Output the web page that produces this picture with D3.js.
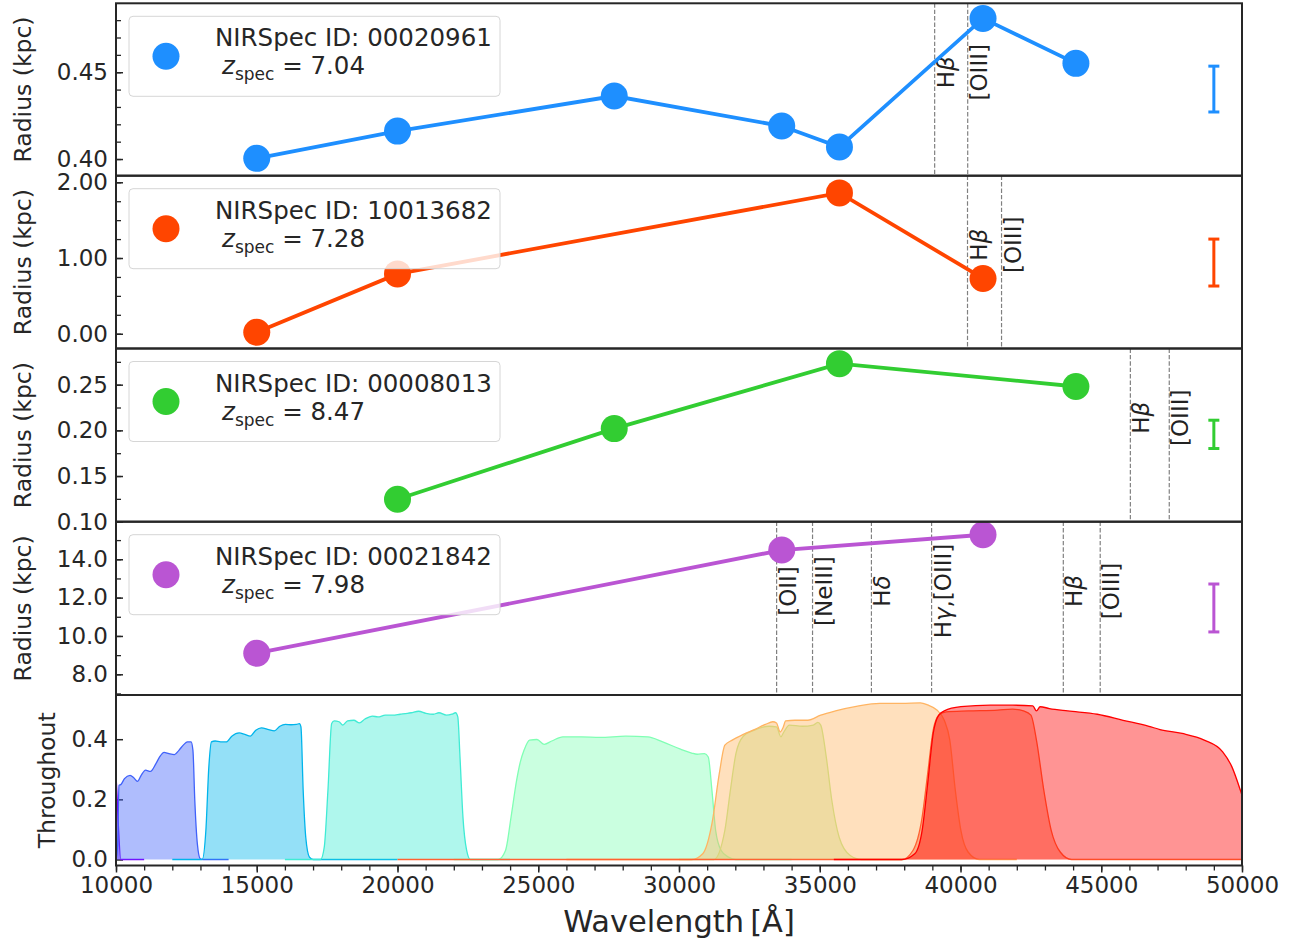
<!DOCTYPE html>
<html><head><meta charset="utf-8">
<script src="https://cdn.jsdelivr.net/npm/d3@7"></script>
<style>
body{margin:0;background:#fff}
text{font-family:"DejaVu Sans",sans-serif;fill:#262626}
</style>
</head><body>
<svg id="chart" width="1300" height="946"></svg>
<script>
// ---------------- data ----------------
const ids = ["00020961", "10013682", "00008013", "00021842"];
const zspec = ["7.04", "7.28", "8.47", "7.98"];

const wave1 = [15000, 20000, 27700, 33650, 35700, 40800, 44100];
const rad1  = [0.4004, 0.4161, 0.4363, 0.4190, 0.4069, 0.4810, 0.4551];
const wave2 = [15000, 20000, 35700, 40800];
const rad2  = [0.02, 0.79, 1.86, 0.73];
const wave3 = [20000, 27700, 35700, 44100];
const rad3  = [0.1246, 0.2019, 0.2730, 0.2480];
const wave4 = [15000, 33650, 40800];
const rad4  = [9.10, 14.48, 15.28];

const errWave = 49000;
const errCenter = [0.4403, 0.94, 0.1956, 11.46];
const errSize   = [0.0132, 0.31, 0.0155, 1.25];

const lineWave1 = [39082, 40256];
const lineName1 = ["Hβ", "[OIII]"];
const lineWave2 = [40249, 41458];
const lineName2 = ["Hβ", "[OIII]"];
const lineWave3 = [46034, 47416];
const lineName3 = ["Hβ", "[OIII]"];
const lineWave4 = [33468, 34744, 36836, 38973, 43652, 44963];
const lineName4 = ["[OII]", "[NeIII]", "Hδ", "Hγ,[OIII]", "Hβ", "[OIII]"];

const yTicks1 = [0.40, 0.45];
const yTicks2 = [0.00, 1.00, 2.00];
const yTicks3 = [0.10, 0.15, 0.20, 0.25];
const yTicks4 = [8.0, 10.0, 12.0, 14.0];
const yTicks5 = [0.0, 0.2, 0.4];
const xTicks = [10000, 15000, 20000, 25000, 30000, 35000, 40000, 45000, 50000];

const filterNames = ["F090W", "F115W", "F150W", "F200W", "F277W", "F335M", "F356W", "F410M", "F444W"];
const F090W = [[7000,0],[8000,0.02],[8200,0.3],[9500,0.31],[10000,0.27],[10080,0.12],[10170,0],[11000,0]];
const F115W = [[9500,0],[10000,0],[10060,0.05],[10105,0.247],[10171,0.249],[10302,0.269],[10500,0.28],[10631,0.272],[10762,0.26],[10894,0.28],[11051,0.297],[11222,0.293],[11420,0.319],[11550,0.341],[11708,0.356],[11879,0.352],[12076,0.349],[12234,0.363],[12405,0.382],[12536,0.391],[12667,0.391],[12733,0.363],[12799,0.197],[12890,0.052],[12996,0.002],[13100,0],[14000,0]];
const F150W = [[12000,0],[13062,0],[13193,0.097],[13298,0.308],[13390,0.391],[13522,0.394],[13719,0.391],[13916,0.391],[14113,0.41],[14376,0.421],[14573,0.416],[14770,0.41],[14967,0.43],[15164,0.438],[15427,0.432],[15624,0.428],[15821,0.443],[16018,0.449],[16215,0.448],[16412,0.449],[16517,0.452],[16570,0.441],[16649,0.23],[16741,0.074],[16872,0.008],[17003,0],[20000,0]];
const F200W = [[16000,0],[17266,0],[17398,0.041],[17529,0.23],[17661,0.452],[17753,0.461],[17924,0.458],[18056,0.447],[18227,0.461],[18450,0.463],[18647,0.454],[18844,0.467],[19107,0.477],[19304,0.474],[19567,0.48],[19830,0.48],[20092,0.483],[20355,0.486],[20486,0.488],[20749,0.493],[21012,0.486],[21275,0.483],[21472,0.488],[21735,0.48],[21932,0.483],[22063,0.488],[22142,0.474],[22220,0.341],[22325,0.141],[22457,0.03],[22588,0],[24000,0]];
const F277W = [[22000,0],[23574,0],[23837,0.03],[24034,0.141],[24231,0.263],[24362,0.324],[24494,0.363],[24691,0.397],[24954,0.399],[25217,0.383],[25479,0.394],[25874,0.408],[26531,0.408],[27188,0.406],[28108,0.41],[28897,0.408],[29423,0.391],[30053,0.367],[30450,0.354],[30646,0.35],[30908,0.352],[31039,0.341],[31170,0.23],[31301,0.097],[31498,0.03],[31760,0.008],[32022,0],[34000,0]];
const F335M = [[30000,0],[31236,0],[31629,0.097],[31825,0.23],[32022,0.352],[32284,0.41],[32677,0.43],[33201,0.443],[33463,0.441],[33620,0.408],[33725,0.424],[33921,0.447],[34380,0.443],[34773,0.447],[34930,0.456],[35035,0.447],[35231,0.341],[35428,0.197],[35690,0.074],[36083,0.013],[36476,0],[38000,0]];
const F356W = [[26000,0],[30450,0],[30843,0.019],[31170,0.119],[31432,0.286],[31629,0.38],[31891,0.397],[32284,0.416],[32677,0.432],[33070,0.449],[33332,0.458],[33463,0.454],[33594,0.424],[33699,0.439],[33790,0.461],[34118,0.463],[34576,0.463],[35035,0.48],[35559,0.494],[36345,0.51],[37131,0.519],[37917,0.519],[38572,0.521],[38834,0.514],[39161,0.497],[39423,0.463],[39620,0.397],[39816,0.23],[40013,0.097],[40275,0.024],[40668,0],[42000,0]];
const F410M = [[20000,0],[37917,0],[38310,0.03],[38638,0.141],[38834,0.286],[39030,0.43],[39227,0.48],[39489,0.491],[40275,0.494],[41323,0.497],[41847,0.5],[42240,0.494],[42502,0.48],[42698,0.397],[42960,0.23],[43222,0.097],[43550,0.024],[43943,0],[50000,0]];
const F444W = [[35500,0],[37917,0],[38375,0.019],[38638,0.097],[38834,0.252],[39030,0.419],[39227,0.48],[39423,0.494],[40013,0.508],[41061,0.513],[41847,0.513],[42568,0.511],[42698,0.494],[42829,0.508],[43157,0.502],[43812,0.494],[44860,0.483],[45777,0.463],[46694,0.443],[47087,0.432],[47873,0.419],[48659,0.397],[49314,0.358],[49642,0.308],[49943,0.23],[50300,0.12],[50700,0.02],[51000,0]];

// ---------------- styles / layout ----------------
const galaxyColors = ["#1e8fff", "#ff4500", "#32cd32", "#ba55d3"];
const filterColors = ["#8000ff", "#4062fa", "#00b4eb", "#40ebd4", "#80ffb4", "#bfeb8e", "#ffb462", "#ff6232", "#ff0000"];
const L = 116, R = 1242;
const panelTop = [3.3, 175.7, 348.5, 521.7, 695];
const panelBot = [175.7, 348.5, 521.7, 695, 865.5];
const yDomains = [[0.3904, 0.4897], [-0.195, 2.087], [0.10, 0.2896], [6.92, 15.96], [-0.02, 0.547]];
const minorSteps = [0.01, 0.25, 0.025, 1.0, null];
const tickFormats = [".2f", ".2f", ".2f", ".1f", ".1f"];

const svg = d3.select("#chart");
const x = d3.scaleLinear().domain([10000, 50000]).range([L, R]);

const waves = [wave1, wave2, wave3, wave4];
const rads = [rad1, rad2, rad3, rad4];
const lineWaves = [lineWave1, lineWave2, lineWave3, lineWave4];
const lineNames = [lineName1, lineName2, lineName3, lineName4];
const yTicksAll = [yTicks1, yTicks2, yTicks3, yTicks4, yTicks5];

const defs = svg.append("defs");
panelTop.forEach((t, i) => {
  defs.append("clipPath").attr("id", "clip" + i)
    .append("rect").attr("x", L).attr("y", t).attr("width", R - L).attr("height", panelBot[i] - t);
});

function addLabel(g, str, xp, yp) {
  const t = g.append("text")
    .attr("transform", `translate(${xp},${yp}) rotate(-90)`)
    .attr("text-anchor", "middle")
    .style("font-size", "23px").style("fill", "#222");
  for (const ch of str) {
    const sp = t.append("tspan").text(ch);
    if (/[α-ω]/.test(ch)) sp.style("font-style", "italic");
  }
}

const yScales = [];
for (let i = 0; i < 5; i++) {
  const y = d3.scaleLinear().domain(yDomains[i]).range([panelBot[i], panelTop[i]]);
  yScales.push(y);
  if (minorSteps[i]) {
    const st = minorSteps[i];
    const lo = Math.ceil(yDomains[i][0] / st - 1e-6), hi = Math.floor(yDomains[i][1] / st + 1e-6);
    const vals = d3.range(lo, hi + 1).map(k => k * st);
    svg.append("g").attr("transform", `translate(${L},0)`)
      .call(d3.axisLeft(y).tickValues(vals).tickSize(-5).tickFormat(""))
      .call(g => g.select(".domain").remove())
      .call(g => g.selectAll("line").attr("stroke", "#262626").attr("stroke-width", 1.3));
  }
  svg.append("g").attr("transform", `translate(${L},0)`)
    .call(d3.axisLeft(y).tickValues(yTicksAll[i]).tickSize(-7).tickPadding(8).tickFormat(d3.format(tickFormats[i])))
    .call(g => g.select(".domain").remove())
    .call(g => g.selectAll("line").attr("stroke", "#262626").attr("stroke-width", 1.5))
    .call(g => g.selectAll("text").style("font-size", "23px").style("font-family", "DejaVu Sans").attr("fill", "#262626"));
}

// ---------------- radius panels ----------------
for (let i = 0; i < 4; i++) {
  const y = yScales[i];
  const g = svg.append("g");
  const gc = g.append("g").attr("clip-path", `url(#clip${i})`);
  lineWaves[i].forEach((w, k) => {
    gc.append("line").attr("x1", x(w)).attr("x2", x(w))
      .attr("y1", panelTop[i]).attr("y2", panelBot[i])
      .attr("stroke", "#808080").attr("stroke-width", 1.2).attr("stroke-dasharray", "4.4,2");
    addLabel(g, lineNames[i][k], x(w) + 19, panelTop[i] + 0.40 * (panelBot[i] - panelTop[i]));
  });
  const pts = waves[i].map((w, k) => [w, rads[i][k]]);
  g.append("path").datum(pts)
    .attr("d", d3.line().x(d => x(d[0])).y(d => y(d[1])))
    .attr("fill", "none").attr("stroke", galaxyColors[i]).attr("stroke-width", 3.8);
  g.selectAll("circle.pt").data(pts).enter().append("circle")
    .attr("cx", d => x(d[0])).attr("cy", d => y(d[1])).attr("r", 13.5)
    .attr("fill", galaxyColors[i]);
  const ex = x(errWave), y0 = y(errCenter[i] - errSize[i]), y1 = y(errCenter[i] + errSize[i]);
  g.append("line").attr("x1", ex).attr("x2", ex).attr("y1", y0).attr("y2", y1)
    .attr("stroke", galaxyColors[i]).attr("stroke-width", 3);
  [y0, y1].forEach(yy => g.append("line").attr("x1", ex - 5.5).attr("x2", ex + 5.5)
    .attr("y1", yy).attr("y2", yy).attr("stroke", galaxyColors[i]).attr("stroke-width", 3));
  const top = panelTop[i];
  g.append("rect").attr("x", 129).attr("y", top + 13).attr("width", 371).attr("height", 80)
    .attr("rx", 4).attr("fill", "#fff").attr("fill-opacity", 0.8)
    .attr("stroke", "#d6d6d6").attr("stroke-width", 1);
  g.append("circle").attr("cx", 166).attr("cy", top + 53).attr("r", 13.5).attr("fill", galaxyColors[i]);
  g.append("text").attr("x", 215).attr("y", top + 43).style("font-size", "24.5px")
    .text("NIRSpec ID: " + ids[i]);
  const t2 = g.append("text").attr("x", 222).attr("y", top + 71).style("font-size", "24.5px");
  t2.append("tspan").style("font-style", "italic").text("z");
  t2.append("tspan").attr("dy", 6).style("font-size", "17px").text("spec");
  t2.append("tspan").attr("dy", -6).text(" = " + zspec[i]);
}

// ---------------- filter panel ----------------
const yT = yScales[4];
const filters = [F090W, F115W, F150W, F200W, F277W, F335M, F356W, F410M, F444W];
const gf = svg.append("g").attr("clip-path", "url(#clip4)");
filters.forEach((f, k) => {
  gf.append("path").datum(f)
    .attr("d", d3.area().curve(d3.curveMonotoneX).x(d => x(d[0])).y0(yT(0)).y1(d => yT(d[1])))
    .attr("fill", filterColors[k]).attr("fill-opacity", 0.42).attr("stroke", "none");
  gf.append("path").datum(f)
    .attr("d", d3.line().curve(d3.curveMonotoneX).x(d => x(d[0])).y(d => yT(d[1])))
    .attr("fill", "none").attr("stroke", filterColors[k]).attr("stroke-width", 1.3);
});

svg.append("g").attr("transform", `translate(0,${panelBot[4]})`)
  .call(d3.axisBottom(x).tickValues(d3.range(10000, 50001, 1000)).tickSize(5).tickFormat(""))
  .call(g => g.select(".domain").remove())
  .call(g => g.selectAll("line").attr("stroke", "#262626").attr("stroke-width", 1.3));
svg.append("g").attr("transform", `translate(0,${panelBot[4]})`)
  .call(d3.axisBottom(x).tickValues(xTicks).tickSize(7).tickPadding(4).tickFormat(d3.format("d")))
  .call(g => g.select(".domain").remove())
  .call(g => g.selectAll("line").attr("stroke", "#262626").attr("stroke-width", 1.5))
  .call(g => g.selectAll("text").style("font-size", "23px").style("font-family", "DejaVu Sans").attr("fill", "#262626"));

panelTop.forEach((t, i) => {
  svg.append("rect").attr("x", L).attr("y", t).attr("width", R - L).attr("height", panelBot[i] - t)
    .attr("fill", "none").attr("stroke", "#262626").attr("stroke-width", 2);
});

for (let i = 0; i < 4; i++) {
  svg.append("text").attr("transform", `translate(31,${(panelTop[i] + panelBot[i]) / 2}) rotate(-90)`)
    .attr("text-anchor", "middle").style("font-size", "23.5px").text("Radius (kpc)");
}
svg.append("text").attr("transform", `translate(55,${(panelTop[4] + panelBot[4]) / 2}) rotate(-90)`)
  .attr("text-anchor", "middle").style("font-size", "23.5px").text("Throughout");
svg.append("text").attr("x", (L + R) / 2).attr("y", 932).attr("text-anchor", "middle")
  .style("font-size", "30.5px").text("Wavelength\u2009[Å]");
</script>
</body></html>
